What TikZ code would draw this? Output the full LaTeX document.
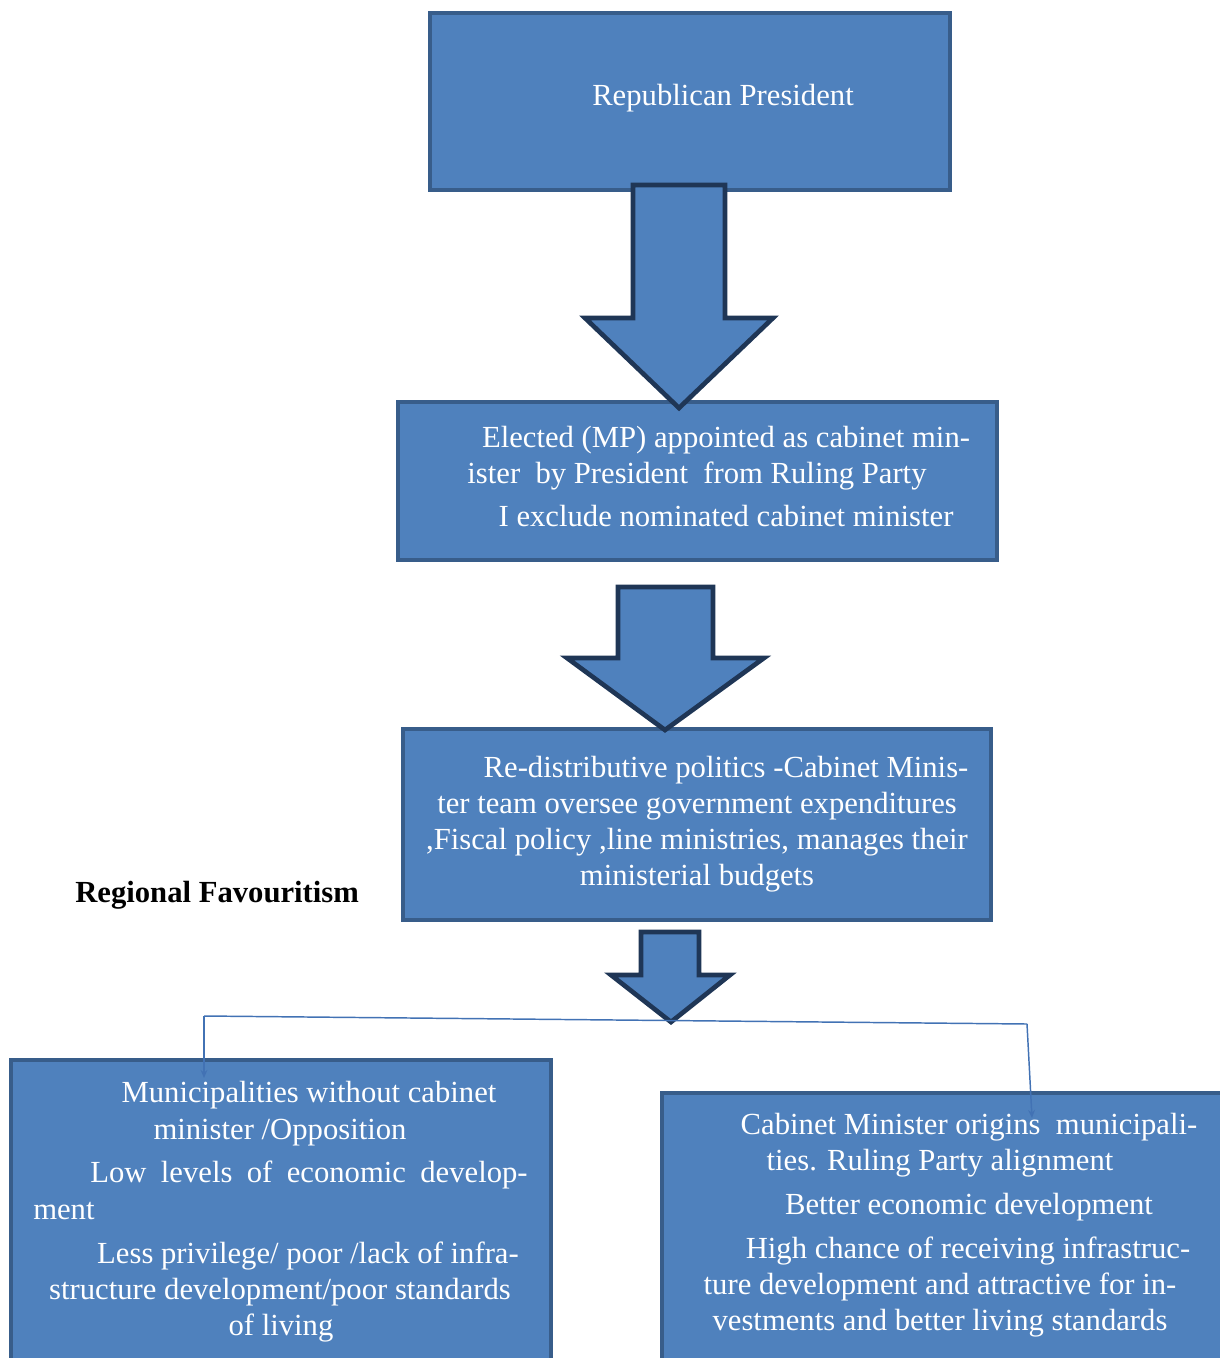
\documentclass[tikz,border=0pt]{standalone}
\usepackage{fontspec}
\setmainfont{Liberation Serif}
\usetikzlibrary{arrows.meta,fit}
\definecolor{boxfill}{RGB}{79,129,189}
\definecolor{boxline}{RGB}{56,93,138}
\definecolor{arrline}{RGB}{31,54,86}
\definecolor{linkblue}{RGB}{66,114,180}
\tikzset{
  pbox/.style={draw=boxline, fill=boxfill, line width=3pt, inner sep=0pt},
  bigarrow/.style={draw=arrline, fill=boxfill, line width=3.5pt, line join=miter},
  btext/.style={anchor=base, text=white, inner sep=0pt,
                font=\fontsize{23}{28}\selectfont},
  link/.style={draw=linkblue, line width=1.1pt},
}

\begin{document}
\begin{tikzpicture}[x=0.75pt, y=-0.75pt]
  \useasboundingbox (0,0) rectangle (1219,1358);
  % Boxes
  \node[pbox, fit={(430,13) (950,190)}] (pres) {};
  \node[pbox, fit={(398,402) (997,560)}] (mp) {};
  \node[pbox, fit={(403,729) (991,920)}] (redis) {};
  \node[pbox, fit={(11,1060) (551,1370)}] (nomin) {};
  \node[pbox, fit={(662,1093) (1230,1370)}] (withmin) {};

  % Block arrows
  \draw[bigarrow] (633,185) -- (725,185) -- (725,318) -- (773,318)
    -- (679,408) -- (585,318) -- (633,318) -- cycle;
  \draw[bigarrow] (618,587) -- (713,587) -- (713,658) -- (764,658)
    -- (665,730) -- (567,658) -- (618,658) -- cycle;
  \draw[bigarrow] (641,932) -- (699,932) -- (699,975) -- (730,975)
    -- (671,1022) -- (611,975) -- (641,975) -- cycle;

  % Split connectors
  \coordinate (lbend) at (204,1016);
  \coordinate (rbend) at (1027,1024);
  \coordinate (ltip) at (204,1078);
  \coordinate (rtip) at (1032,1118);
  \draw[link] (lbend) -- (rbend);
  \draw[link, -{Stealth[length=6pt, width=5pt]}] (lbend) -- (ltip);
  \draw[link, -{Stealth[length=6pt, width=5pt]}] (rbend) -- (rtip);

  % Texts
  \node[btext] (t1) at (723,106) {Republican President};

  \node[btext] (e1) at (726,447) {Elected (MP) appointed as cabinet min-};
  \node[btext] (e2) at (697,483) {ister~ by President~ from Ruling Party};
  \node[btext] (e3) at (726,526) {I exclude nominated cabinet minister};

  \node[btext] (r1) at (726,777) {Re-distributive politics -Cabinet Minis-};
  \node[btext] (r2) at (697,813) {ter team oversee government expenditures};
  \node[btext] (r3) at (697,849) {,Fiscal policy ,line ministries, manages their};
  \node[btext] (r4) at (697,885) {ministerial budgets};

  \node[btext] (m1) at (309,1102) {Municipalities without cabinet};
  \node[btext] (m2) at (280,1139) {minister /Opposition};
  \node[btext] (m3) at (309,1182) {\makebox[328pt][s]{Low levels of economic develop-}};
  \node[btext, anchor=base west] (m4) at (33,1219) {ment};
  \node[btext] (m5) at (308,1263) {Less privilege/ poor /lack of infra-};
  \node[btext] (m6) at (280,1299) {structure development/poor standards};
  \node[btext] (m7) at (281,1335) {of living};

  \node[btext] (c1) at (969,1134) {Cabinet Minister origins~ municipali-};
  \node[btext] (c2) at (940,1170) {ties. Ruling Party alignment};
  \node[btext] (c3) at (969,1214) {Better economic development};
  \node[btext] (c4) at (968,1258) {High chance of receiving infrastruc-};
  \node[btext] (c5) at (940,1294) {ture development and attractive for in-};
  \node[btext] (c6) at (940,1330) {vestments and better living standards};

  % Side label
  \node[btext, anchor=base west, text=black, font=\fontsize{23}{28}\selectfont\bfseries]
    (regfav) at (75,902) {Regional Favouritism};
\end{tikzpicture}
\end{document}
